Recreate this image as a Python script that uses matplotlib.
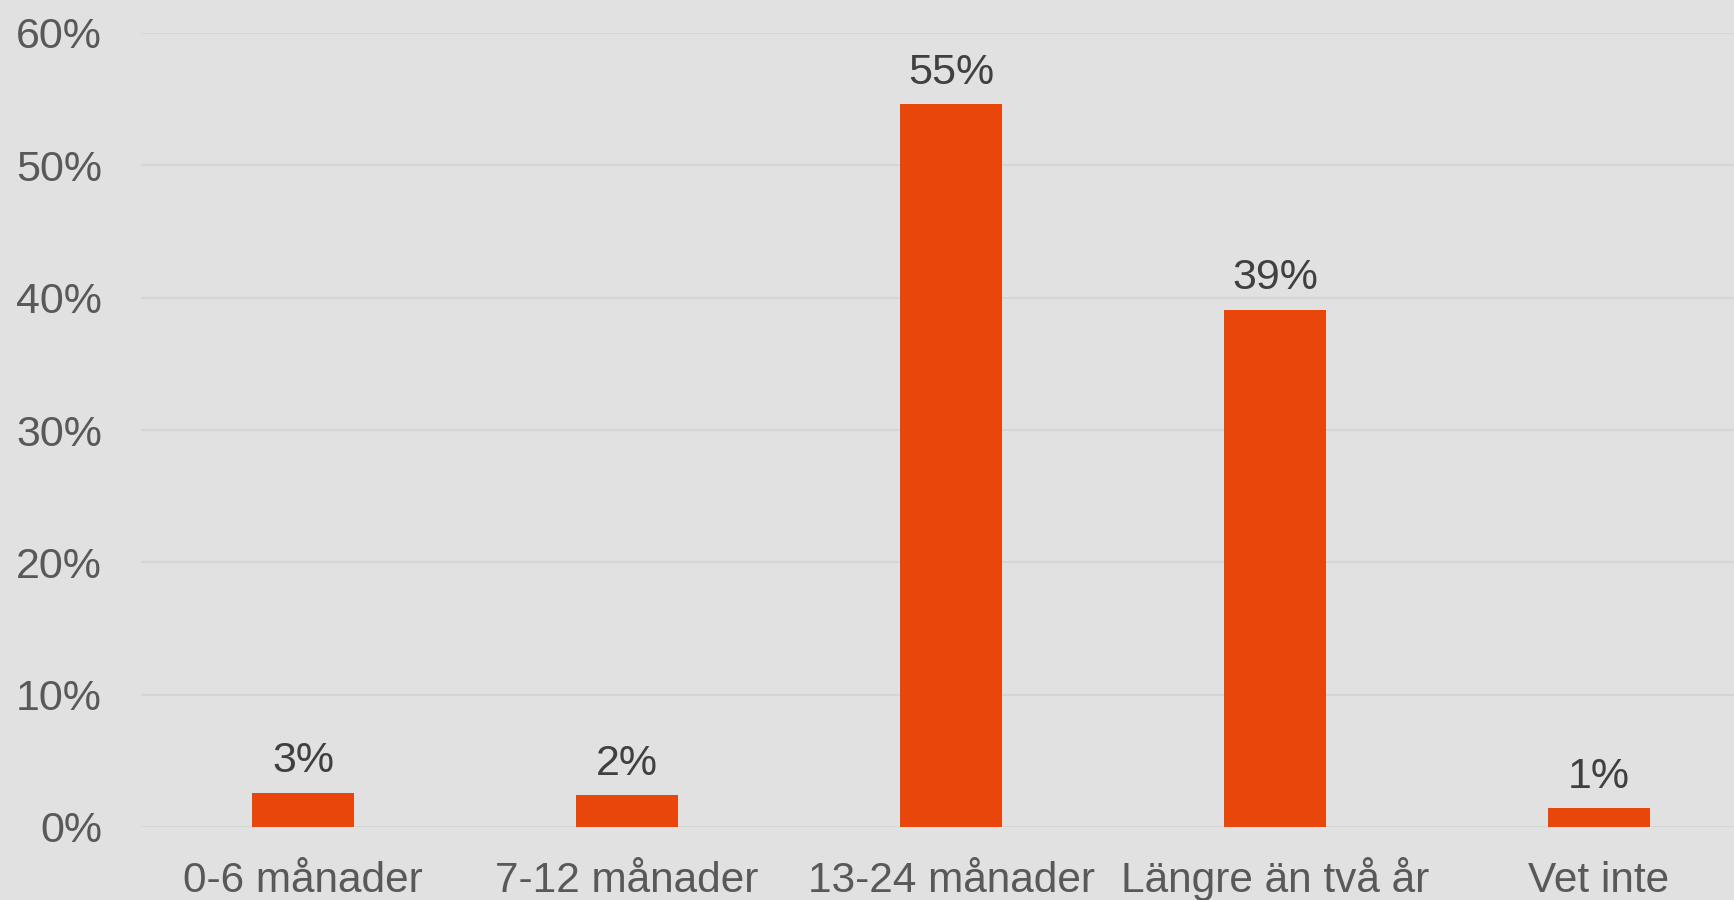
import matplotlib
matplotlib.use("Agg")
import matplotlib.pyplot as plt
import numpy as np

categories = ["0-6 månader", "7-12 månader", "13-24 månader", "Längre än två år", "Vet inte"]
values = [2.6, 2.4, 54.6, 39.1, 1.4]
yticks = [0, 10, 20, 30, 40, 50, 60]

BG = "#E1E1E1"
BAR = "#E8460A"

plt.rcParams["font.family"] = ["Liberation Sans", "DejaVu Sans"]

fig = plt.figure(figsize=(17.34, 9.0), dpi=100, facecolor=BG)
# axes placed in pixel terms; right edge runs off the figure like the source
ax = fig.add_axes([141 / 1734, 73 / 900, 1620 / 1734, 794 / 900], facecolor=BG)

x = np.arange(len(categories))
bars = ax.bar(x, values, width=0.315, color=BAR, zorder=3)

ax.set_xlim(-0.5, len(categories) - 0.5)
ax.set_ylim(0, 60)
ax.set_yticks(yticks)
ax.set_yticklabels([f"{t}%" for t in yticks])
ax.set_xticks(x)
ax.set_xticklabels(categories)

ax.tick_params(axis="y", length=0, pad=28, labelsize=31, labelcolor="#595959")
ax.tick_params(axis="x", length=0, pad=46.5, labelsize=30.5, labelcolor="#595959")
# baseline-align category labels so the accented one sits on the same line
for lab in ax.get_xticklabels():
    lab.set_verticalalignment("baseline")
ax.grid(axis="y", color="#D5D5D5", linewidth=1.5, zorder=0)
for s in ax.spines.values():
    s.set_visible(False)

for xi, v in zip(x, values):
    ax.annotate(f"{round(v):.0f}%", (xi, v), xytext=(0, 14.5), textcoords="offset points",
                ha="center", va="baseline", fontsize=31, color="#404040")

fig.savefig("out.png", dpi=100, facecolor=BG)
